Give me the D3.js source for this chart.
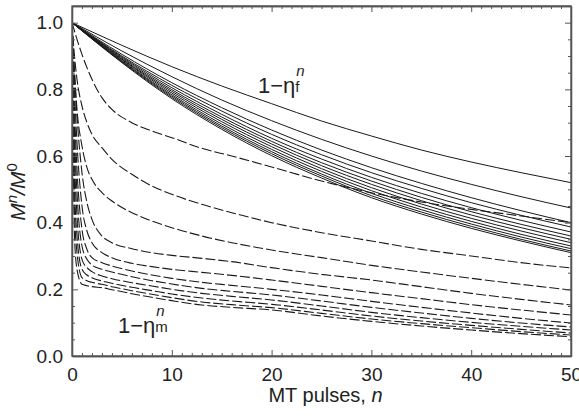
<!DOCTYPE html>
<html><head><meta charset="utf-8">
<script src="https://cdn.jsdelivr.net/npm/d3@7"></script>
<style>body{margin:0;background:#fff}svg{display:block}text{font-family:"Liberation Sans",Arial,sans-serif;fill:#222}</style>
</head><body><div id="chart"></div>
<script>
// x positions (MT pulses n) where curves are sampled
const nSolid = [0,5,10,15,20,25,30,35,40,45,50];
const solidSeries = [
  [1,0.932,0.868,0.810,0.757,0.705,0.660,0.618,0.582,0.550,0.520],
  [1,0.915,0.838,0.768,0.706,0.650,0.600,0.555,0.515,0.478,0.444],
  [1,0.905,0.820,0.745,0.678,0.618,0.565,0.518,0.475,0.436,0.400],
  [1,0.900,0.812,0.735,0.665,0.604,0.550,0.503,0.460,0.422,0.387],
  [1,0.897,0.805,0.725,0.653,0.591,0.536,0.488,0.445,0.407,0.372],
  [1,0.894,0.799,0.717,0.644,0.580,0.525,0.476,0.433,0.395,0.360],
  [1,0.891,0.794,0.710,0.636,0.571,0.515,0.466,0.423,0.385,0.350],
  [1,0.889,0.789,0.703,0.628,0.562,0.505,0.456,0.413,0.375,0.340],
  [1,0.886,0.784,0.696,0.620,0.554,0.496,0.447,0.404,0.365,0.330],
  [1,0.884,0.780,0.690,0.613,0.546,0.488,0.439,0.396,0.357,0.322],
  [1,0.882,0.776,0.685,0.607,0.540,0.481,0.432,0.389,0.350,0.315],
  [1,0.880,0.772,0.680,0.601,0.534,0.475,0.426,0.383,0.345,0.310]
];
const nDashed = [0,0.25,0.5,1,1.5,2,3,4,6,8,10,13,16,20,25,30,35,40,45,50];
const dashedSeries = [
  [1,0.975,0.95,0.905,0.865,0.83,0.775,0.74,0.70,0.675,0.655,0.623,0.60,0.567,0.525,0.49,0.462,0.44,0.42,0.40],
  [1,0.90,0.83,0.75,0.70,0.665,0.625,0.59,0.545,0.51,0.485,0.455,0.43,0.40,0.37,0.345,0.32,0.30,0.28,0.264],
  [1,0.85,0.74,0.63,0.565,0.53,0.49,0.465,0.43,0.405,0.385,0.36,0.34,0.318,0.295,0.272,0.252,0.233,0.215,0.198],
  [1,0.85,0.72,0.55,0.46,0.41,0.36,0.34,0.322,0.31,0.302,0.293,0.283,0.265,0.245,0.228,0.208,0.188,0.17,0.153],
  [1,0.80,0.64,0.45,0.375,0.34,0.31,0.295,0.278,0.268,0.26,0.251,0.242,0.228,0.209,0.19,0.172,0.154,0.138,0.123],
  [1,0.74,0.56,0.38,0.32,0.295,0.28,0.27,0.255,0.243,0.233,0.221,0.212,0.20,0.183,0.164,0.146,0.129,0.113,0.099],
  [1,0.67,0.49,0.33,0.29,0.273,0.26,0.252,0.238,0.226,0.216,0.203,0.194,0.183,0.165,0.146,0.129,0.113,0.099,0.087],
  [1,0.60,0.42,0.29,0.265,0.253,0.24,0.232,0.22,0.21,0.20,0.188,0.179,0.168,0.15,0.131,0.115,0.101,0.089,0.078],
  [1,0.52,0.36,0.26,0.243,0.235,0.225,0.218,0.206,0.196,0.186,0.174,0.165,0.155,0.138,0.12,0.105,0.092,0.08,0.069],
  [1,0.44,0.31,0.235,0.226,0.221,0.215,0.208,0.196,0.185,0.175,0.162,0.154,0.145,0.128,0.111,0.097,0.085,0.073,0.063],
  [1,0.36,0.26,0.215,0.211,0.208,0.205,0.199,0.187,0.176,0.166,0.153,0.146,0.138,0.12,0.104,0.09,0.078,0.067,0.058]
];
const xMajorTicks = [0,10,20,30,40,50];
const yMajorTicks = [0,0.2,0.4,0.6,0.8,1.0];

const W = 579, H = 416;
const L = 72, R = 571, T = 6, B = 356;
const svg = d3.select("#chart").append("svg").attr("width", W).attr("height", H);
const x = d3.scaleLinear().domain([0,50]).range([L,R]);
const y = d3.scaleLinear().domain([0,1.05]).range([B,T]);

svg.append("clipPath").attr("id","clip").append("rect")
  .attr("x",L).attr("y",T).attr("width",R-L).attr("height",B-T);
const plot = svg.append("g").attr("clip-path","url(#clip)");

const line = d3.line().curve(d3.curveMonotoneX);
solidSeries.forEach(s => {
  plot.append("path")
    .attr("d", line(s.map((v,i)=>[x(nSolid[i]), y(v)])))
    .attr("fill","none").attr("stroke","#1a1a1a").attr("stroke-width",1);
});
dashedSeries.forEach(s => {
  plot.append("path")
    .attr("d", line(s.map((v,i)=>[x(nDashed[i]), y(v)])))
    .attr("fill","none").attr("stroke","#1a1a1a").attr("stroke-width",1.1)
    .attr("stroke-dasharray","10,3");
});

// axes
const axCol = "#555";
const xMinor = d3.range(0,51).filter(v=>v%10!==0);
const yMinor = d3.range(0,1.051,0.05).filter(v=>Math.abs(v*5-Math.round(v*5))>1e-6);
function styleAxis(g){ g.selectAll("path,line").attr("stroke",axCol); g.select(".domain").attr("stroke-width",1.3); g.selectAll("text").style("font-size","19px").attr("fill","#222").attr("font-family",null); }
svg.append("g").attr("transform",`translate(0,${B})`)
  .call(d3.axisBottom(x).tickValues(xMajorTicks).tickSizeInner(-6).tickSizeOuter(0).tickPadding(12).tickFormat(d3.format("d"))).call(styleAxis);
svg.append("g").attr("transform",`translate(0,${B})`)
  .call(d3.axisBottom(x).tickValues(xMinor).tickSizeInner(-3).tickSizeOuter(0).tickFormat("")).call(styleAxis);
svg.append("g").attr("transform",`translate(0,${T})`)
  .call(d3.axisTop(x).tickValues(xMajorTicks).tickSizeInner(-6).tickSizeOuter(0).tickFormat("")).call(styleAxis);
svg.append("g").attr("transform",`translate(0,${T})`)
  .call(d3.axisTop(x).tickValues(xMinor).tickSizeInner(-3).tickSizeOuter(0).tickFormat("")).call(styleAxis);
svg.append("g").attr("transform",`translate(${L},0)`)
  .call(d3.axisLeft(y).tickValues(yMajorTicks).tickSizeInner(-6).tickSizeOuter(0).tickPadding(9).tickFormat(d3.format(".1f"))).call(styleAxis);
svg.append("g").attr("transform",`translate(${L},0)`)
  .call(d3.axisLeft(y).tickValues(yMinor).tickSizeInner(-3).tickSizeOuter(0).tickFormat("")).call(styleAxis);
svg.append("g").attr("transform",`translate(${R},0)`)
  .call(d3.axisRight(y).tickValues(yMajorTicks).tickSizeInner(-6).tickSizeOuter(0).tickFormat("")).call(styleAxis);
svg.append("g").attr("transform",`translate(${R},0)`)
  .call(d3.axisRight(y).tickValues(yMinor).tickSizeInner(-3).tickSizeOuter(0).tickFormat("")).call(styleAxis);
svg.append("rect").attr("x",L).attr("y",T).attr("width",R-L).attr("height",B-T)
  .attr("fill","none").attr("stroke",axCol).attr("stroke-width",1.3);

// axis titles
const xl = svg.append("text").attr("x",(L+R)/2+4).attr("y",402).attr("text-anchor","middle").style("font-size","20px");
xl.append("tspan").text("MT pulses, ");
xl.append("tspan").attr("font-style","italic").text("n");
const yl = svg.append("text").attr("transform","translate(25,192) rotate(-90)").attr("text-anchor","middle").style("font-size","21px");
yl.append("tspan").attr("font-style","italic").text("M");
yl.append("tspan").attr("font-style","italic").attr("dy",-8).style("font-size","15px").text("n");
yl.append("tspan").attr("font-style","italic").attr("dy",8).text("/M");
yl.append("tspan").attr("dy",-8).style("font-size","15px").text("0");

// annotations
function annot(xp, yp, sub){
  const t = svg.append("text").attr("x",xp).attr("y",yp).style("font-size","22px");
  t.append("tspan").text("1\u2212\u03B7");
  const bx = t.node().getComputedTextLength();
  svg.append("text").attr("x",xp+bx+1).attr("y",yp-17).style("font-size","15px").attr("font-style","italic").text("n");
  svg.append("text").attr("x",xp+bx).attr("y",yp-1).style("font-size","15px").text(sub);
}
annot(258, 93, "f");
annot(118, 333, "m");
</script></body></html>
